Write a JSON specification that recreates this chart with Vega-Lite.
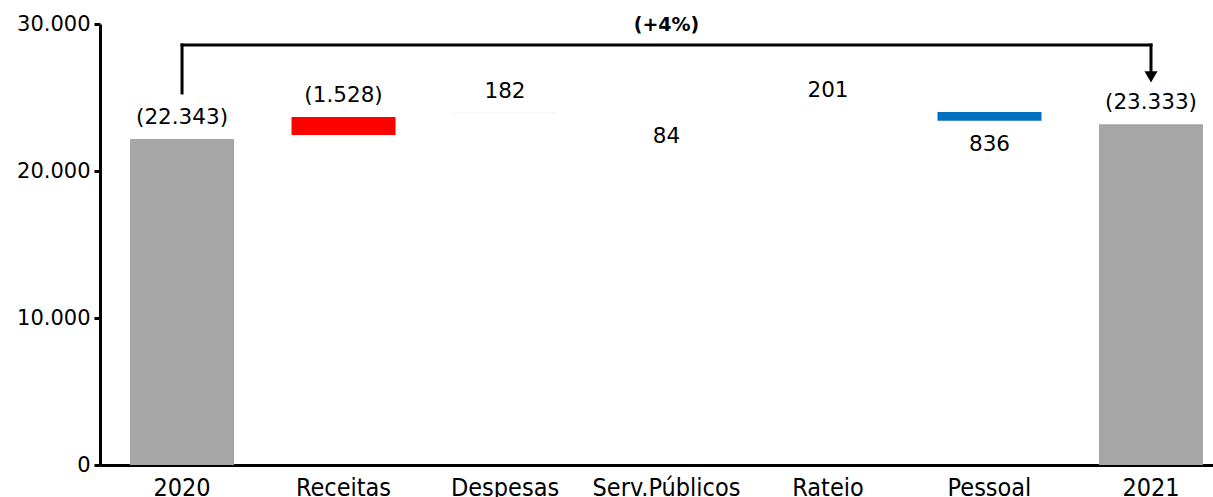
{
  "$schema": "https://vega.github.io/schema/vega-lite/v6.json",
  "width": 1113,
  "height": 441,
  "autosize": {"type": "none"},
  "padding": {"left": 100, "top": 24, "right": 0, "bottom": 32},
  "background": "white",
  "config": {"view": {"stroke": null}},
  "datasets": {
    "steps": [
      {"cat": "2020", "start": 0, "end": 22180, "label": "(22.343)", "pos": "above", "kind": "total"},
      {"cat": "Receitas", "start": 22450, "end": 23670, "label": "(1.528)", "pos": "above", "kind": "decrease"},
      {"cat": "Despesas", "start": 23930, "end": 23960, "label": "182", "pos": "above", "kind": "tiny"},
      {"cat": "Serv.Públicos", "start": 23920, "end": 23920, "label": "84", "pos": "below", "kind": "none"},
      {"cat": "Rateio", "start": 24010, "end": 24010, "label": "201", "pos": "above", "kind": "none"},
      {"cat": "Pessoal", "start": 23420, "end": 24010, "label": "836", "pos": "below", "kind": "increase"},
      {"cat": "2021", "start": 0, "end": 23180, "label": "(23.333)", "pos": "above", "kind": "total"}
    ],
    "bracket": [
      {"cat": "2020", "cat2": "2020", "y": 25310, "y2": 28570},
      {"cat": "2020", "cat2": "2021", "y": 28570, "y2": 28570},
      {"cat": "2021", "cat2": "2021", "y": 28570, "y2": 26800}
    ],
    "arrow": [{"cat": "2021", "y": 26400}],
    "change": [{"cat": "Serv.Públicos", "y": 30000, "label": "(+4%)"}]
  },
  "layer": [
    {
      "data": {"name": "steps"},
      "mark": {"type": "bar"},
      "encoding": {
        "x": {
          "field": "cat", "type": "nominal",
          "scale": {"domain": ["2020", "Receitas", "Despesas", "Serv.Públicos", "Rateio", "Pessoal", "2021"], "paddingInner": 0.356, "paddingOuter": 0.124, "align": 0.75},
          "axis": {
            "title": null, "labelAngle": 0, "ticks": false,
            "domainColor": "black", "domainWidth": 3,
            "labelFont": "Liberation Sans Narrow, DejaVu Sans Condensed, Liberation Sans",
            "labelFontSize": 25, "labelColor": "black", "labelPadding": 10, "labelBaseline": "top"
          }
        },
        "y": {
          "field": "start", "type": "quantitative",
          "scale": {"domain": [0, 30000], "nice": false},
          "axis": {
            "title": null, "values": [0, 10000, 20000, 30000], "grid": false,
            "labelExpr": "replace(format(datum.value, ','), ',', '.')",
            "domainColor": "black", "domainWidth": 3,
            "tickColor": "black", "tickWidth": 3, "tickSize": 6,
            "labelFont": "DejaVu Sans", "labelFontSize": 21, "labelColor": "black", "labelPadding": 4
          }
        },
        "y2": {"field": "end"},
        "color": {
          "field": "kind", "type": "nominal", "legend": null,
          "scale": {"domain": ["total", "decrease", "tiny", "none", "increase"], "range": ["#A6A6A6", "#FF0000", "#FCE8E8", "transparent", "#0070C0"]}
        }
      }
    },
    {
      "data": {"name": "steps"},
      "transform": [{"filter": "datum.pos === 'above'"}],
      "mark": {"type": "text", "font": "DejaVu Sans", "fontSize": 21.5, "color": "black", "baseline": "middle", "dy": -21},
      "encoding": {
        "x": {"field": "cat", "type": "nominal"},
        "y": {"field": "end", "type": "quantitative"},
        "text": {"field": "label"}
      }
    },
    {
      "data": {"name": "steps"},
      "transform": [{"filter": "datum.pos === 'below'"}],
      "mark": {"type": "text", "font": "DejaVu Sans", "fontSize": 21.5, "color": "black", "baseline": "middle", "dy": 24},
      "encoding": {
        "x": {"field": "cat", "type": "nominal"},
        "y": {"field": "start", "type": "quantitative"},
        "text": {"field": "label"}
      }
    },
    {
      "data": {"name": "bracket"},
      "mark": {"type": "rule", "color": "black", "strokeWidth": 3, "strokeCap": "square"},
      "encoding": {
        "x": {"field": "cat", "type": "nominal"},
        "x2": {"field": "cat2"},
        "y": {"field": "y", "type": "quantitative"},
        "y2": {"field": "y2"}
      }
    },
    {
      "data": {"name": "arrow"},
      "mark": {"type": "point", "shape": "triangle-down", "filled": true, "color": "black", "size": 170, "opacity": 1},
      "encoding": {
        "x": {"field": "cat", "type": "nominal"},
        "y": {"field": "y", "type": "quantitative"}
      }
    },
    {
      "data": {"name": "change"},
      "mark": {"type": "text", "font": "DejaVu Sans", "fontSize": 19, "fontWeight": "bold", "color": "black", "baseline": "middle", "dy": 1},
      "encoding": {
        "x": {"field": "cat", "type": "nominal"},
        "y": {"field": "y", "type": "quantitative"},
        "text": {"field": "label"}
      }
    }
  ]
}
